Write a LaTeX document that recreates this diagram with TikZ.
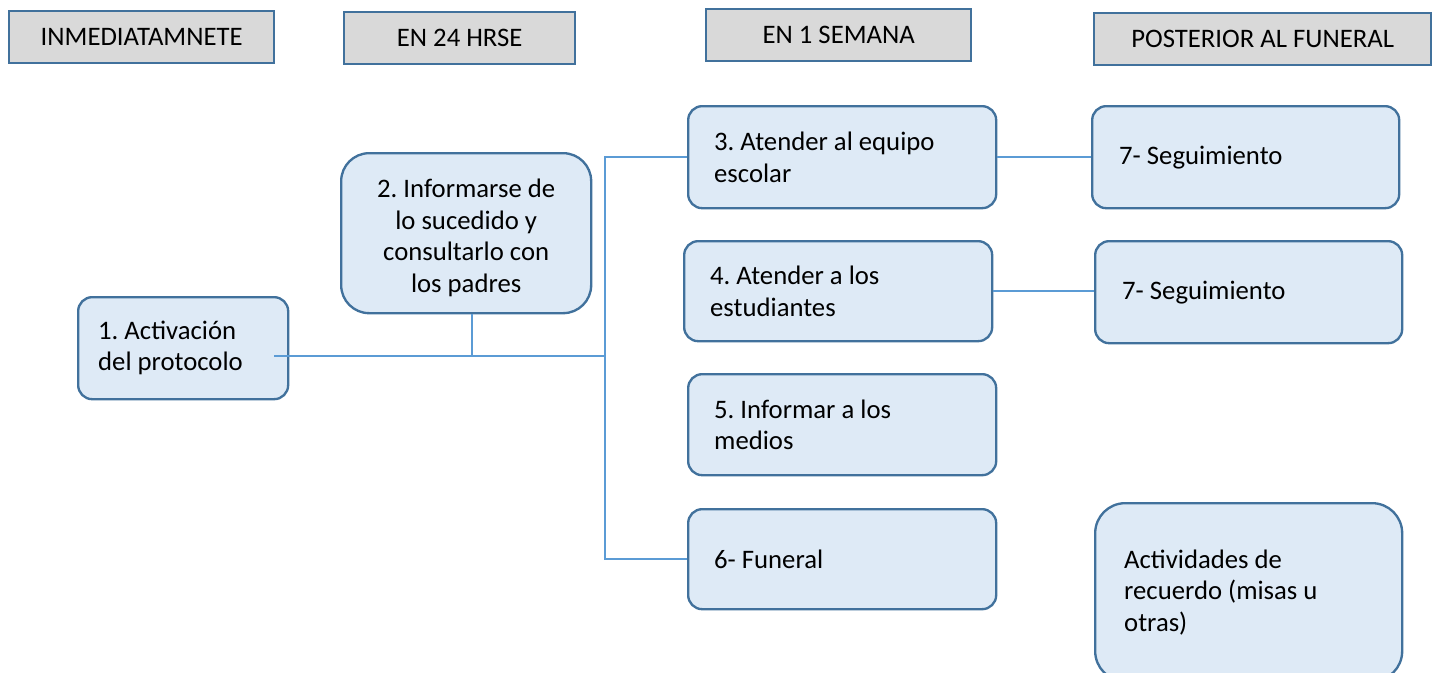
\documentclass[tikz,border=0pt]{standalone}
\usepackage{fontspec}
\setmainfont{Carlito}
\usetikzlibrary{positioning}

\definecolor{boxfill}{HTML}{DEEAF6}
\definecolor{boxline}{HTML}{41719C}
\definecolor{linkblue}{HTML}{5B9BD5}
\definecolor{headfill}{HTML}{D9D9D9}
\newlength\px
\setlength\px{0.015cm}
\newcommand\stagefont{\fontsize{11.4}{13.4}\selectfont\frenchspacing}

\begin{document}
\begin{tikzpicture}[
  x=\px, y=-\px,
  header/.style={rectangle, draw=boxline, fill=headfill, line width=1pt, font=\stagefont, inner sep=0pt, anchor=north west, minimum height=52\px},
  stage/.style={rectangle, rounded corners=14\px, draw=boxline, fill=boxfill, line width=1pt, font=\stagefont, align=flush left, anchor=north west, inner ysep=0pt, inner xsep=26\px, text width=256\px, minimum height=102\px},
  link/.style={draw=linkblue, line width=0.85pt}
]
\useasboundingbox (0,0) rectangle (1449,672);

% column headers
\node[header, minimum width=265\px] (hnow) at (8,10) {INMEDIATAMNETE};
\node[header, minimum width=231\px] (hday) at (343,11) {EN 24 HRSE};
\node[header, minimum width=265\px] (hweek) at (705,8) {EN 1 SEMANA};
\node[header, minimum width=337\px] (hpost) at (1093,12) {POSTERIOR AL FUNERAL};

% steps
\node[stage, inner xsep=20\px, text width=170\px] (activ) at (77,296) {1. Activación\\del protocolo};
\node[stage, rounded corners=28\px, align=flush center, inner xsep=20\px, text width=210\px, minimum height=160\px] (inform) at (340,152) {\\[-1.4pt]2. Informarse de\\lo sucedido y\\consultarlo con\\los padres};
\node[stage] (team) at (687,105) {3. Atender al equipo\\escolar};
\node[stage, minimum height=100\px] (students) at (683,240) {4. Atender a los\\estudiantes};
\node[stage, minimum height=101\px] (media) at (687,373) {5. Informar a los\\medios};
\node[stage, minimum height=100\px] (funeral) at (687,508) {6- Funeral};
\node[stage, inner xsep=27\px, text width=253\px] (followa) at (1091,105) {7- Seguimiento};
\node[stage, inner xsep=27\px, text width=253\px] (followb) at (1094,240) {7- Seguimiento};
\node[stage, rounded corners=30\px, inner xsep=29\px, text width=249\px, minimum height=178\px] (memory) at (1094,502) {Actividades de\\recuerdo (misas u\\otras)};

% connectors
\coordinate (join) at (605,356);
\draw[link] ([xshift=-15\px]activ.east |- join) -- (join);
\draw[link] ([xshift=6\px]inform.south) -- ([xshift=6\px]inform.south |- join);
\draw[link] (team.west) -- (team.west -| join) -- (funeral.west -| join) -- (funeral.west);
\draw[link] (team.east) -- (followa.west);
\draw[link] (students.east) -- (students.east -| followb.west);
\end{tikzpicture}
\end{document}
